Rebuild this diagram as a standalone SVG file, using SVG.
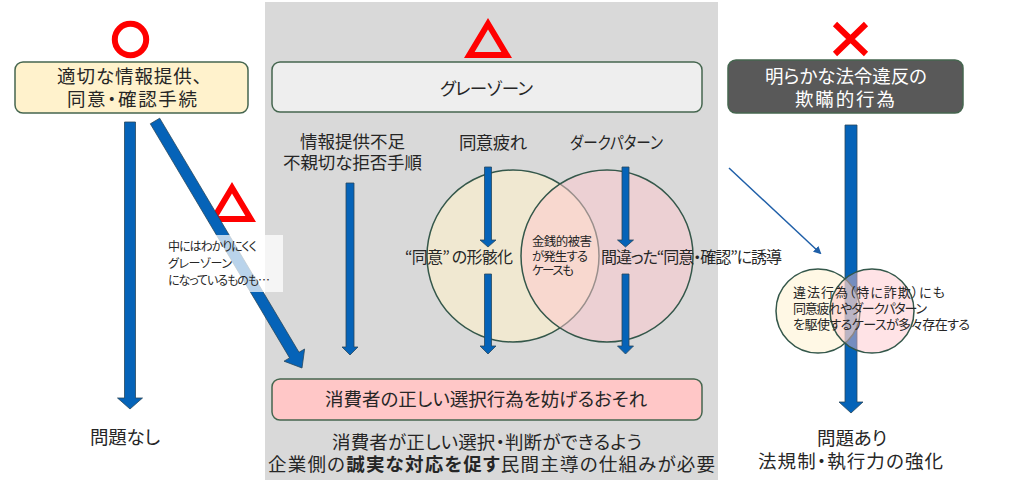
<svg xmlns="http://www.w3.org/2000/svg" width="1024" height="482" viewBox="0 0 1024 482">
<style>
text{font-family:"Noto Sans CJK JP","Noto Sans",sans-serif;fill:#262626;font-feature-settings:"palt";}
.t18{font-size:18.5px;text-anchor:middle;}
.t17{font-size:17.5px;text-anchor:middle;}
.t15{font-size:16px;}
.s12{font-size:12.5px;}
.s13{font-size:13px;}
.s11{font-size:12px;}
.w{fill:#ffffff;}
.box{stroke:#45664f;stroke-width:1.5;}
.arr{fill:#0563b8;stroke:#28485c;stroke-width:0.8;}
.red{fill:none;stroke:#ff0000;stroke-width:6;}
.circ{stroke:#34574a;stroke-width:1.5;}
</style>
<defs>
<marker id="ah" markerWidth="8" markerHeight="8" refX="6" refY="4" orient="auto" markerUnits="userSpaceOnUse">
<path d="M0,0 L8,4 L0,8 Z" fill="#1f5fa8"/>
</marker>
<path id="tri" fill="#ff0000" fill-rule="evenodd" d="M24,0 L48,40 L0,40 Z M24,11.6 L10.6,34 L37.4,34 Z"/>
</defs>

<rect id="gray-panel" x="265" y="2" width="453" height="478" fill="#d9d9d9"/>

<g id="marks">
<circle cx="130.5" cy="39.5" r="15.7" class="red" stroke-width="5.7"/>
<use href="#tri" x="464" y="18"/>
<use href="#tri" x="208" y="182"/>
<path d="M835,24 L866,54 M866,24 L835,54" class="red"/>
</g>

<g id="center-circles">
<circle cx="513" cy="256" r="86" fill="#fff2cc" fill-opacity="0.6" class="circ"/>
<circle cx="607" cy="256" r="86" fill="#ffc7ce" fill-opacity="0.5" class="circ"/>
</g>

<g id="connectors">
<polygon class="arr" points="124.5,122 135.5,122 135.5,398 142.5,398 130,409 117.5,398 124.5,398"/>
<polygon class="arr" points="159.7,118.2 299,352.3 304.6,349 302,368 284,361.2 289.6,357.9 150.3,123.8"/>
<polygon class="arr" points="346,183 354,183 354,347 358,347 350,355 342,347 346,347"/>
<polygon class="arr" points="484.5,167 491.5,167 491.5,240 496,240 488,247 480,240 484.5,240"/>
<polygon class="arr" points="484.5,274 491.5,274 491.5,346 496,346 488,354 480,346 484.5,346"/>
<polygon class="arr" points="622,167 629,167 629,240 633.5,240 625.5,247 617.5,240 622,240"/>
<polygon class="arr" points="622,274 629,274 629,346 633.5,346 625.5,354 617.5,346 622,346"/>
<polygon class="arr" points="845,125 857,125 857,402 863,402 851,413 839,402 845,402"/>
<line x1="729" y1="168" x2="820" y2="253" stroke="#1f5fa8" stroke-width="1.5" marker-end="url(#ah)"/>
</g>

<g id="note-left">
<rect x="167" y="235" width="116" height="57" fill="#ffffff" fill-opacity="0.72"/>
<text class="s11" x="168" y="251" textLength="89">中にはわかりにくく</text>
<text class="s11" x="168" y="268" textLength="64">グレーゾーン</text>
<text class="s11" x="168" y="285" textLength="102">になっているものも…</text>
</g>

<g id="node-ok">
<rect x="15" y="62" width="233" height="51" rx="8" fill="#fff2cc" class="box"/>
<text class="t18" x="129.5" y="83" textLength="145">適切な情報提供、</text>
<text class="t18" x="132" y="106" textLength="130">同意・確認手続</text>
</g>

<g id="node-gray">
<rect x="272" y="62" width="430" height="50" rx="8" fill="#eeeeee" class="box"/>
<text class="t17" x="486.5" y="95" textLength="93">グレーゾーン</text>
</g>

<g id="node-ng">
<rect x="728" y="60" width="235" height="53" rx="8" fill="#595959" class="box"/>
<text class="t18 w" x="846" y="83" textLength="162">明らかな法令違反の</text>
<text class="t18 w" x="845" y="106" textLength="100">欺瞞的行為</text>
</g>

<g id="labels-center">
<text class="t17" x="352.5" y="148" textLength="105">情報提供不足</text>
<text class="t17" x="352.5" y="169" textLength="139">不親切な拒否手順</text>
<text class="t17" x="493" y="149" textLength="68">同意疲れ</text>
<text class="t17" x="616.5" y="149" textLength="93" lengthAdjust="spacingAndGlyphs">ダークパターン</text>
<text class="t15" x="459" y="263" text-anchor="middle" textLength="108">“同意” の形骸化</text>
<text class="s12" x="532" y="246" textLength="60">金銭的被害</text>
<text class="s12" x="532" y="261" textLength="56">が発生する</text>
<text class="s12" x="532" y="275" textLength="42">ケースも</text>
<text class="t15" x="601" y="263" textLength="181">間違った“同意・確認”に誘導</text>
</g>

<g id="node-risk">
<rect x="272" y="379" width="430" height="41" rx="8" fill="#ffc7c7" class="box"/>
<text class="t18" x="486" y="406" textLength="322">消費者の正しい選択行為を妨げるおそれ</text>
</g>

<g id="right-circles">
<circle cx="818" cy="311" r="42" fill="#fff2cc" fill-opacity="0.5" class="circ"/>
<circle cx="872" cy="311" r="42" fill="#ffc0c8" fill-opacity="0.45" class="circ"/>
<text class="s13" x="793" y="297" textLength="152">違法行為（特に詐欺）にも</text>
<text class="s13" x="793" y="313" textLength="134">同意疲れやダークパターン</text>
<text class="s13" x="793" y="329" textLength="177">を駆使するケースが多々存在する</text>
</g>

<g id="bottom-texts">
<text class="t18" x="125" y="444" textLength="70">問題なし</text>
<text class="t18" x="487" y="449" textLength="310">消費者が正しい選択・判断ができるよう</text>
<text class="t18" x="491.5" y="471" textLength="447">企業側の<tspan font-weight="700">誠実な対応を促す</tspan>民間主導の仕組みが必要</text>
<text class="t18" x="852" y="445" textLength="70">問題あり</text>
<text class="t18" x="850.5" y="468" textLength="185">法規制・執行力の強化</text>
</g>
</svg>
